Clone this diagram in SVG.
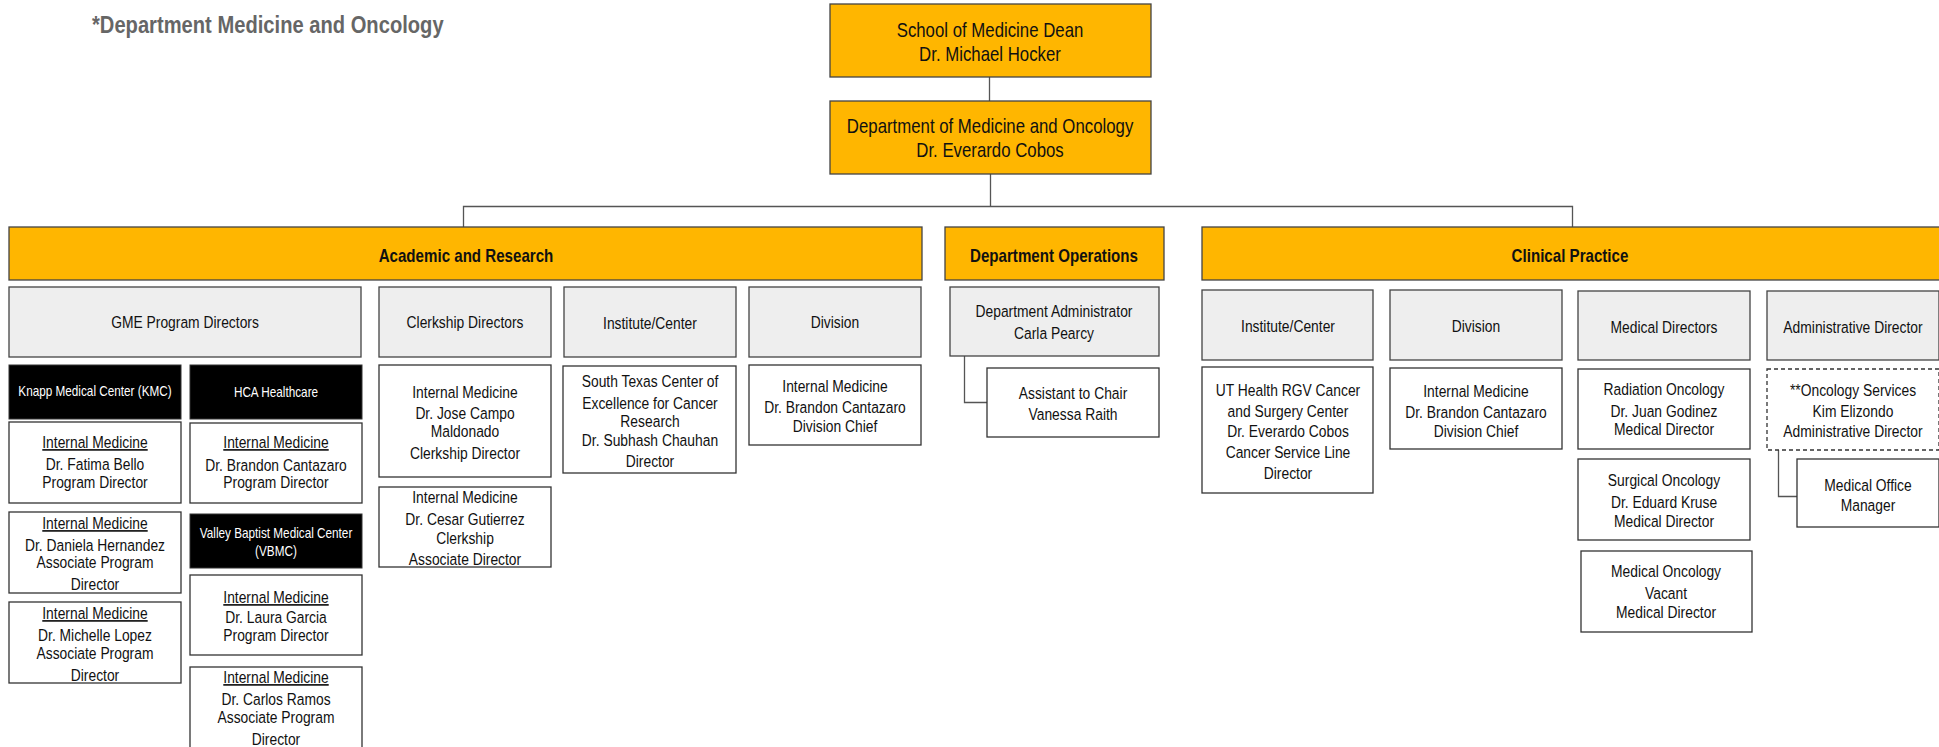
<svg xmlns="http://www.w3.org/2000/svg" width="1939" height="747" viewBox="0 0 1939 747">
<style>
text{font-family:"Liberation Sans",Arial,sans-serif;text-anchor:middle;fill:#111;transform-box:fill-box;transform-origin:center;transform:scaleX(.84)}
.gold{fill:#FFB600;stroke:#444;stroke-width:1.3}
.hdr{fill:#EEEEEE;stroke:#444;stroke-width:1.3}
.box{fill:#FFFFFF;stroke:#333;stroke-width:1.3}
.dash{fill:#FFFFFF;stroke:#333;stroke-width:1.3;stroke-dasharray:4 3}
.blk{fill:#000;stroke:#333;stroke-width:1}
.t20{font-size:20px}
.tb{font-size:18px;font-weight:bold}
.t15{font-size:16.5px}
.tw{font-size:14px;fill:#fff}
.u{text-decoration:underline}
.con{fill:none;stroke:#555;stroke-width:1.3}
.title{font-size:24px;font-weight:bold;fill:#666;text-anchor:start;transform-origin:left center}
</style>
<rect width="1939" height="747" fill="#fff"/>
<text class="title" x="92" y="33">*Department Medicine and Oncology</text>
<g id="connectors">
<path class="con" d="M989.5 77V101"/>
<path class="con" d="M990.5 174V206.5"/>
<path class="con" d="M463.5 227V206.5H1572.5V227"/>
<path class="con" d="M964.5 356V402.5H987"/>
<path class="con" d="M1778.5 450V496.5H1797"/>
</g>
<g id="dean"><rect class="gold" x="830" y="4" width="321" height="73"/><text class="t20" x="990" y="37">School of Medicine Dean</text><text class="t20" x="990" y="61">Dr. Michael Hocker</text></g>
<g id="chair"><rect class="gold" x="830" y="101" width="321" height="73"/><text class="t20" x="990" y="133">Department of Medicine and Oncology</text><text class="t20" x="990" y="157">Dr. Everardo Cobos</text></g>
<g id="academic"><rect class="gold" x="9" y="227" width="913" height="53"/><text class="tb" x="466" y="262">Academic and Research</text></g>
<g id="operations"><rect class="gold" x="945" y="227" width="219" height="53"/><text class="tb" x="1054" y="262">Department Operations</text></g>
<g id="clinical"><rect class="gold" x="1202" y="227" width="740" height="53"/><text class="tb" x="1570" y="262">Clinical Practice</text></g>

<g id="gme"><rect class="hdr" x="9" y="287" width="352" height="70"/><text class="t15" x="185" y="328">GME Program Directors</text></g>
<g id="kmc"><rect class="blk" x="9" y="365" width="172" height="54"/><text class="tw" x="95" y="396">Knapp Medical Center (KMC)</text></g>
<g id="hca"><rect class="blk" x="190" y="365" width="172" height="54"/><text class="tw" x="276" y="397">HCA Healthcare</text></g>
<g id="bello"><rect class="box" x="9" y="422" width="172" height="81"/><text class="t15 u" x="95" y="448">Internal Medicine</text><text class="t15" x="95" y="470">Dr. Fatima Bello</text><text class="t15" x="95" y="488">Program Director</text></g>
<g id="cantazaro-hca"><rect class="box" x="190" y="423" width="172" height="80"/><text class="t15 u" x="276" y="448">Internal Medicine</text><text class="t15" x="276" y="471">Dr. Brandon Cantazaro</text><text class="t15" x="276" y="488">Program Director</text></g>
<g id="hernandez"><rect class="box" x="9" y="512" width="172" height="81"/><text class="t15 u" x="95" y="529">Internal Medicine</text><text class="t15" x="95" y="551">Dr. Daniela Hernandez</text><text class="t15" x="95" y="568">Associate Program</text><text class="t15" x="95" y="590">Director</text></g>
<g id="vbmc"><rect class="blk" x="190" y="514" width="172" height="54"/><text class="tw" x="276" y="538">Valley Baptist Medical Center</text><text class="tw" x="276" y="556">(VBMC)</text></g>
<g id="garcia"><rect class="box" x="190" y="575" width="172" height="80"/><text class="t15 u" x="276" y="603">Internal Medicine</text><text class="t15" x="276" y="623">Dr. Laura Garcia</text><text class="t15" x="276" y="641">Program Director</text></g>
<g id="lopez"><rect class="box" x="9" y="602" width="172" height="81"/><text class="t15 u" x="95" y="619">Internal Medicine</text><text class="t15" x="95" y="641">Dr. Michelle Lopez</text><text class="t15" x="95" y="659">Associate Program</text><text class="t15" x="95" y="681">Director</text></g>
<g id="ramos"><rect class="box" x="190" y="667" width="172" height="90"/><text class="t15 u" x="276" y="683">Internal Medicine</text><text class="t15" x="276" y="705">Dr. Carlos Ramos</text><text class="t15" x="276" y="723">Associate Program</text><text class="t15" x="276" y="745">Director</text></g>

<g id="clerkship"><rect class="hdr" x="379" y="287" width="172" height="70"/><text class="t15" x="465" y="328">Clerkship Directors</text></g>
<g id="institute-ar"><rect class="hdr" x="564" y="287" width="172" height="70"/><text class="t15" x="650" y="329">Institute/Center</text></g>
<g id="division-ar"><rect class="hdr" x="749" y="287" width="172" height="70"/><text class="t15" x="835" y="328">Division</text></g>
<g id="campo"><rect class="box" x="379" y="365" width="172" height="112"/><text class="t15" x="465" y="398">Internal Medicine</text><text class="t15" x="465" y="419">Dr. Jose Campo</text><text class="t15" x="465" y="437">Maldonado</text><text class="t15" x="465" y="459">Clerkship Director</text></g>
<g id="gutierrez"><rect class="box" x="379" y="487" width="172" height="80"/><text class="t15" x="465" y="503">Internal Medicine</text><text class="t15" x="465" y="525">Dr. Cesar Gutierrez</text><text class="t15" x="465" y="544">Clerkship</text><text class="t15" x="465" y="565">Associate Director</text></g>
<g id="stcecr"><rect class="box" x="563" y="366" width="173" height="107"/><text class="t15" x="650" y="387">South Texas Center of</text><text class="t15" x="650" y="409">Excellence for Cancer</text><text class="t15" x="650" y="427">Research</text><text class="t15" x="650" y="446">Dr. Subhash Chauhan</text><text class="t15" x="650" y="467">Director</text></g>
<g id="cantazaro-ar"><rect class="box" x="749" y="365" width="172" height="80"/><text class="t15" x="835" y="392">Internal Medicine</text><text class="t15" x="835" y="413">Dr. Brandon Cantazaro</text><text class="t15" x="835" y="432">Division Chief</text></g>

<g id="administrator"><rect class="hdr" x="950" y="287" width="209" height="69"/><text class="t15" x="1054" y="317">Department Administrator</text><text class="t15" x="1054" y="339">Carla Pearcy</text></g>
<g id="assistant"><rect class="box" x="987" y="368" width="172" height="69"/><text class="t15" x="1073" y="399">Assistant to Chair</text><text class="t15" x="1073" y="420">Vanessa Raith</text></g>

<g id="institute-cp"><rect class="hdr" x="1202" y="290" width="171" height="70"/><text class="t15" x="1288" y="332">Institute/Center</text></g>
<g id="division-cp"><rect class="hdr" x="1390" y="290" width="172" height="70"/><text class="t15" x="1476" y="332">Division</text></g>
<g id="meddirs"><rect class="hdr" x="1578" y="291" width="172" height="69"/><text class="t15" x="1664" y="333">Medical Directors</text></g>
<g id="admindir"><rect class="hdr" x="1767" y="291" width="172" height="69"/><text class="t15" x="1853" y="333">Administrative Director</text></g>
<g id="uthealth"><rect class="box" x="1202" y="367" width="171" height="126"/><text class="t15" x="1288" y="396">UT Health RGV Cancer</text><text class="t15" x="1288" y="417">and Surgery Center</text><text class="t15" x="1288" y="437">Dr. Everardo Cobos</text><text class="t15" x="1288" y="458">Cancer Service Line</text><text class="t15" x="1288" y="479">Director</text></g>
<g id="cantazaro-cp"><rect class="box" x="1390" y="368" width="172" height="81"/><text class="t15" x="1476" y="397">Internal Medicine</text><text class="t15" x="1476" y="418">Dr. Brandon Cantazaro</text><text class="t15" x="1476" y="437">Division Chief</text></g>
<g id="radiation"><rect class="box" x="1578" y="369" width="172" height="80"/><text class="t15" x="1664" y="395">Radiation Oncology</text><text class="t15" x="1664" y="417">Dr. Juan Godinez</text><text class="t15" x="1664" y="435">Medical Director</text></g>
<g id="surgical"><rect class="box" x="1578" y="459" width="172" height="81"/><text class="t15" x="1664" y="486">Surgical Oncology</text><text class="t15" x="1664" y="508">Dr. Eduard Kruse</text><text class="t15" x="1664" y="527">Medical Director</text></g>
<g id="medonc"><rect class="box" x="1581" y="551" width="171" height="81"/><text class="t15" x="1666" y="577">Medical Oncology</text><text class="t15" x="1666" y="599">Vacant</text><text class="t15" x="1666" y="618">Medical Director</text></g>
<g id="oncservices"><rect class="dash" x="1767" y="369" width="172" height="81"/><text class="t15" x="1853" y="396">**Oncology Services</text><text class="t15" x="1853" y="417">Kim Elizondo</text><text class="t15" x="1853" y="437">Administrative Director</text></g>
<g id="officemgr"><rect class="box" x="1797" y="459" width="142" height="68"/><text class="t15" x="1868" y="491">Medical Office</text><text class="t15" x="1868" y="511">Manager</text></g>
</svg>
